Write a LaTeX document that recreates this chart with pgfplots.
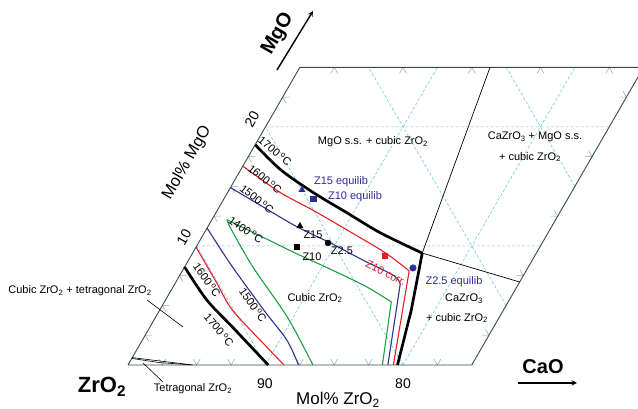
\documentclass[border=0pt]{standalone}
\usepackage{fontspec}
\setmainfont{Liberation Sans}
\usepackage{pgfplots}
\pgfplotsset{compat=1.18}
\definecolor{gridc}{RGB}{110,200,220}
\definecolor{redc}{RGB}{228,30,36}
\definecolor{bluec}{RGB}{48,48,150}
\definecolor{greenc}{RGB}{30,160,70}
\definecolor{tickc}{RGB}{150,160,180}
\definecolor{edgec}{RGB}{55,75,75}
\definecolor{labblue}{RGB}{45,45,150}
\newcommand{\tx}{\fontsize{11}{13}\selectfont}
\begin{document}
\begin{tikzpicture}[x=1pt,y=1pt]
\useasboundingbox (0,0) rectangle (638,409);
\begin{axis}[
  anchor=origin, at={(128pt,44pt)},
  x={(13.75pt,0pt)}, y={(6.875pt,11.907pt)},
  xmin=0, xmax=25, ymin=0, ymax=25,
  hide axis, clip=false,
  unbounded coords=jump,
]
% dashed grid
\addplot[gridc, line width=0.6pt, dash pattern=on 3pt off 2pt] coordinates {
 (0,10) (25,10) (nan,nan) (0,20) (25,20) (nan,nan)
 (10,0) (10,25) (nan,nan) (20,0) (20,25) (nan,nan)
 (10,0) (0,10) (nan,nan) (20,0) (0,20) (nan,nan)
 (25,5) (5,25) (nan,nan) (25,15) (15,25)};
% chevron ticks
\addplot[tickc, line width=0.5pt] coordinates {
 (2,0.5) (2.5,0) (2.5,0.5) (nan,nan) (4.5,0.5) (5,0) (5,0.5) (nan,nan)
 (7,0.5) (7.5,0) (7.5,0.5) (nan,nan) (12,0.5) (12.5,0) (12.5,0.5) (nan,nan)
 (14.5,0.5) (15,0) (15,0.5) (nan,nan) (17,0.5) (17.5,0) (17.5,0.5) (nan,nan)
 (22,0.5) (22.5,0) (22.5,0.5) (nan,nan)
 (0.5,2.5) (0,2.5) (0.5,2) (nan,nan) (0.5,5) (0,5) (0.5,4.5) (nan,nan)
 (0.5,7.5) (0,7.5) (0.5,7) (nan,nan) (0.5,12.5) (0,12.5) (0.5,12) (nan,nan)
 (0.5,15) (0,15) (0.5,14.5) (nan,nan) (0.5,17.5) (0,17.5) (0.5,17) (nan,nan)
 (0.5,22.5) (0,22.5) (0.5,22) (nan,nan)
 (2.5,24.5) (2.5,25) (3,24.5) (nan,nan) (7.5,24.5) (7.5,25) (8,24.5) (nan,nan)
 (12.5,24.5) (12.5,25) (13,24.5) (nan,nan) (17.5,24.5) (17.5,25) (18,24.5) (nan,nan)
 (22.5,24.5) (22.5,25) (23,24.5) (nan,nan)
 (24.5,2.5) (25,2.5) (24.5,3) (nan,nan) (24.5,7.5) (25,7.5) (24.5,8) (nan,nan)
 (24.5,12.5) (25,12.5) (24.5,13) (nan,nan) (24.5,17.5) (25,17.5) (24.5,18) (nan,nan)
 (24.5,22.5) (25,22.5) (24.5,23)};
% frame
\addplot[edgec, line width=0.9pt] coordinates {(0,0) (25,0) (25,25) (0,25) (0,0)};
% thin phase boundaries
\addplot[black, line width=0.7pt] coordinates {(13.83,25) (16.7,9.4) (25,6.97)};
\addplot[black, line width=0.6pt] coordinates {(0,0.62) (2.2,0.33) (4.73,0)};
\addplot[black, line width=0.6pt] coordinates {(0,0.55) (2.2,0.2) (4.5,0.02)};
% 1400 C
\addplot[greenc, line width=1.1pt, smooth] coordinates {(1.1,12.2) (4.4,10.75) (7.7,9.3) (10.8,8.0) (14.0,6.6) (16.5,5.3)};
\addplot[greenc, line width=1.1pt] coordinates {(16.5,5.3) (18.5,0)};
\addplot[greenc, line width=1.1pt, smooth] coordinates {(1.1,12.2) (1.9,11.3) (5.0,8.2) (9.6,4.0) (13.45,0)};
% 1500 C
\addplot[bluec, line width=1.1pt, smooth] coordinates {(0,14.9) (3.2,13.27) (6.5,11.6) (9.6,10.25) (12.7,8.8) (15.6,7.5) (16.4,6.8)};
\addplot[bluec, line width=1.1pt] coordinates {(16.4,6.8) (18.9,0)};
\addplot[bluec, line width=1.1pt, smooth] coordinates {(0,11.5) (3.3,8.4) (7.7,4.5) (10.5,2.1) (12.4,0)};
% 1600 C
\addplot[redc, line width=1.1pt, smooth] coordinates {(0,16.7) (3.8,14.5) (6.95,13.0) (10.26,11.34) (13.95,9.45) (16.5,7.9)};
\addplot[redc, line width=1.1pt] coordinates {(16.5,7.9) (19.3,0)};
\addplot[redc, line width=1.1pt, smooth] coordinates {(0,9.9) (3.0,6.9) (5.3,4.6) (9.35,1.5) (11.35,0)};
% 1700 C
\addplot[black, line width=2.7pt, smooth] coordinates {(0,18.5) (2.9,16.4) (6.2,14.5) (9.5,12.8) (12.8,11.1) (16.7,9.4)};
\addplot[black, line width=2.7pt] coordinates {(16.7,9.4) (18.3,4.6) (19.6,0)};
\addplot[black, line width=2.7pt, smooth] coordinates {(0,8.23) (3.0,5.46) (6.0,3.19) (10.2,0)};
% samples
\addplot[only marks, mark=triangle*, mark size=3.6pt, labblue] coordinates {(5.3,14.7)};
\addplot[only marks, mark=square*, mark size=2.6pt, labblue] coordinates {(6.5,13.94)};
\addplot[only marks, mark=triangle*, mark size=3.6pt, black] coordinates {(6.67,11.67)};
\addplot[only marks, mark=square*, mark size=2.6pt, black] coordinates {(7.34,9.91)};
\addplot[only marks, mark=*, mark size=3pt, black] coordinates {(9.42,10.25)};
\addplot[only marks, mark=square*, mark size=2.6pt, redc] coordinates {(14.12,9.15)};
\addplot[only marks, mark=*, mark size=3.3pt, labblue] coordinates {(16.65,8.15)};
\end{axis}
% leaders
\draw[black, line width=0.6pt] (147,109) -- (183,82);
\draw[black, line width=0.6pt] (143,46) -- (163,27);
% axis titles
\node[rotate=60, font=\fontsize{20}{22}\selectfont\bfseries] at (278,375) {MgO};
\draw[-stealth, line width=1.4pt] (277,339) -- (313,398);
\node[rotate=60, font=\fontsize{16.5}{18}\selectfont] at (187,246) {Mol\% MgO};
\node[rotate=60, font=\fontsize{14}{16}\selectfont] at (252,290) {20};
\node[rotate=60, font=\fontsize{14}{16}\selectfont] at (184,172) {10};
\node[font=\fontsize{14}{16}\selectfont] at (265,25) {90};
\node[font=\fontsize{14}{16}\selectfont] at (403,25) {80};
\node[font=\fontsize{17}{19}\selectfont] at (338,9) {Mol\% ZrO\textsubscript{2}};
\node[font=\fontsize{22}{24}\selectfont\bfseries] at (102,22) {ZrO\textsubscript{2}};
\node[font=\fontsize{20}{22}\selectfont\bfseries] at (543,42) {CaO};
\draw[-stealth, line width=1.4pt] (518,26) -- (577,26);
% region labels
\node[font=\tx] at (80,118) {Cubic ZrO\textsubscript{2} + tetragonal ZrO\textsubscript{2}};
\node[font=\tx] at (193,20) {Tetragonal ZrO\textsubscript{2}};
\node[font=\tx] at (315,111) {Cubic ZrO\textsubscript{2}};
\node[font=\tx] at (373,267) {MgO s.s. + cubic ZrO\textsubscript{2}};
\node[font=\tx] at (535,272) {CaZrO\textsubscript{3} + MgO s.s.};
\node[font=\tx] at (530,252) {+ cubic ZrO\textsubscript{2}};
\node[font=\tx] at (464,110) {CaZrO\textsubscript{3}};
\node[font=\tx] at (457,91) {+ cubic ZrO\textsubscript{2}};
% sample labels
\node[font=\tx, text=labblue] at (341,227) {Z15 equilib};
\node[font=\tx, text=labblue] at (355,212) {Z10 equilib};
\node[font=\tx, text=labblue] at (454,127) {Z2.5 equilib};
\node[font=\tx] at (313,174) {Z15};
\node[font=\tx] at (312,152) {Z10};
\node[font=\tx] at (342,158) {Z2.5};
\node[font=\tx, text=redc, rotate=-27] at (386,136) {Z10 corr.};
% temperature labels
\node[font=\tx, rotate=-40] at (275,258) {1700\,\textsuperscript{o}C};
\node[font=\tx, rotate=-38] at (265,230) {1600\,\textsuperscript{o}C};
\node[font=\tx, rotate=-38] at (257,210) {1500\,\textsuperscript{o}C};
\node[font=\tx, rotate=-35] at (246,179) {1400\,\textsuperscript{o}C};
\node[font=\tx, rotate=-55] at (207,129) {1600\,\textsuperscript{o}C};
\node[font=\tx, rotate=-55] at (253,104) {1500\,\textsuperscript{o}C};
\node[font=\tx, rotate=-50] at (219,79) {1700\,\textsuperscript{o}C};
\end{tikzpicture}
\end{document}
